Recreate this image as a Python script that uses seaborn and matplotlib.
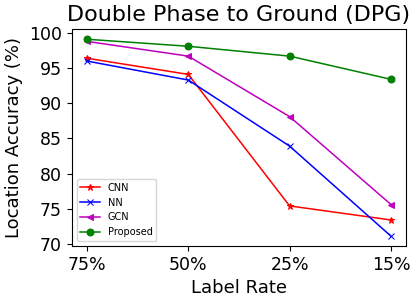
import pandas as pd
import matplotlib
matplotlib.use("Agg")
import matplotlib.pyplot as plt
import seaborn as sns

# data
labelRates = ['75%', '50%', '25%', '15%']
cnn = [96.4, 94.1, 75.4, 73.4]
nn = [96.0, 93.3, 83.9, 71.1]
gcn = [98.8, 96.7, 88.1, 75.6]
proposed = [99.1, 98.1, 96.7, 93.4]

series = [('CNN', cnn, 'red', '*'),
          ('NN', nn, 'blue', 'x'),
          ('GCN', gcn, 'm', '<'),
          ('Proposed', proposed, 'green', 'o')]

fig, ax = plt.subplots(figsize = (4.17, 3.0), dpi = 100)

for name, values, colour, mark in series:
    df = pd.DataFrame({'pos': range(len(labelRates)), 'acc': values})
    sns.lineplot(data = df, x = 'pos', y = 'acc', ax = ax, color = colour,
                 marker = mark, markersize = 5, markeredgecolor = colour,
                 linewidth = 1.1, label = name)

ax.set_xticks(range(len(labelRates)))
ax.set_xticklabels(labelRates)
ax.set_yticks([70, 75, 80, 85, 90, 95, 100])
ax.tick_params(labelsize = 12.5)
ax.set_xlabel('Label Rate', fontsize = 13)
ax.set_ylabel('Location Accuracy (%)', fontsize = 13)
ax.set_title('Double Phase to Ground (DPG)', fontsize = 16)
ax.legend(loc = 'lower left', fontsize = 7)

fig.subplots_adjust(left = 0.172, right = 0.974, top = 0.902, bottom = 0.18)
fig.savefig('out.png', dpi = 100)
